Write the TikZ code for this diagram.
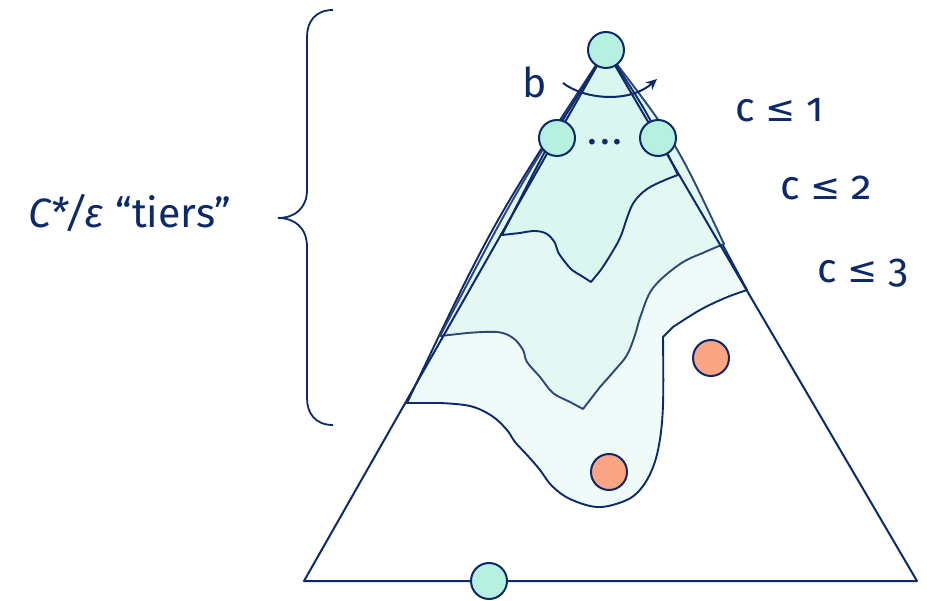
\documentclass[tikz,border=0pt]{standalone}
\usepackage{fontspec}
\setmainfont{Fira Sans}
\newfontfamily\oldnum[RawFeature=+onum]{Fira Sans}
\newfontfamily\relfont{DejaVu Sans}
\usetikzlibrary{arrows.meta}
\definecolor{navy}{HTML}{0C2A6B}
\definecolor{navysoft}{HTML}{2C4778}
\definecolor{mint}{HTML}{B5F0E1}
\definecolor{peach}{HTML}{FCA585}
\definecolor{tierone}{HTML}{D9F6EF}
\definecolor{tiertwo}{HTML}{E3F8F3}
\definecolor{tierthree}{HTML}{EFFBF9}
\newcommand{\lab}{\fontsize{41}{48}\selectfont}
\newcommand{\atmost}{{\relfont\fontsize{36}{40}\selectfont ≤}}

\begin{document}
\begin{tikzpicture}[x=1pt,y=-1pt,font=\lab,text=navy,
  mintball/.style={circle,draw=navy,fill=mint,line width=2pt,minimum size=36pt,inner sep=0},
  peachball/.style={circle,draw=navy,fill=peach,line width=2pt,minimum size=36pt,inner sep=0},
  tier/.style={draw=navy,line width=1.9pt,line join=round}]
\useasboundingbox (0,0) rectangle (927,601);
\coordinate (apex) at (606,50);
\coordinate (bl) at (304,581);
\coordinate (br) at (917,581);
\filldraw[tier,fill=tierthree] (apex) .. controls (494,220) .. (407,403)
  -- plot[smooth,tension=0.6] coordinates {(440,403) (470,406) (492,416) (507,430) (515,442) (528,456) (540,470) (552,486) (570,499) (597,507) (622,502) (638,492) (651,472) (659,445) (663,405) (663,337)}
  -- plot[smooth,tension=0.6] coordinates {(673,327) (700,310) (725,298) (747,290)}
  .. controls (681,167) .. (apex) -- cycle;
\filldraw[tier,fill=tiertwo,draw=navysoft] (apex) .. controls (517,189) .. (440,336)
  -- plot[smooth,tension=0.6] coordinates {(467,333) (497,332) (513,338) (523,350) (527,362) (540,377) (553,393) (570,402) (583,409)}
  -- plot[smooth,tension=0.6] coordinates {(600,387) (615,370) (627,355) (635,335) (641,315) (653,288) (680,264) (705,252) (724,244)}
  .. controls (675,140) .. (apex) -- cycle;
\filldraw[tier,fill=tierone] (apex) .. controls (550,140) .. (502,235)
  -- plot[smooth,tension=0.6] coordinates {(520,233) (535,231) (547,234) (555,243) (558,252) (565,262) (572,270) (580,275) (591,282)}
  -- plot[smooth,tension=0.6] coordinates {(600,271) (608,259) (620,238) (627,218) (634,202) (647,189) (665,180) (678,175)}
  .. controls (646,110) .. (apex) -- cycle;
\draw[navy,line width=2pt,line join=round] (apex) -- (bl) -- (br) -- cycle;
\coordinate (bfrom) at (563,83);
\coordinate (bto) at (657,79);
\draw[navy,line width=2pt,-{Stealth[length=11pt,width=10pt]}] (bfrom) .. controls (585,100) and (630,103) .. (bto);
\node[mintball] (top) at (apex) {};
\node[mintball] (leftnb) at (557,138) {};
\node[mintball] (rightnb) at (658,138) {};
\node[mintball] (base) at (489,581) {};
\node[peachball] (far) at (711,358) {};
\node[peachball] (near) at (609,472) {};
\node[anchor=base,inner sep=0] (gap) at (605,145) {.\kern3pt.\kern3pt.};
\node[anchor=base,inner sep=0] (blab) at (535,98) {b};
\node[anchor=base west,inner sep=0] (cone) at (735,122) {c \atmost{} {\oldnum 1}};
\node[anchor=base west,inner sep=0] (ctwo) at (780,200) {c \atmost{} {\oldnum 2}};
\node[anchor=base west,inner sep=0] (cthree) at (817,283) {c \atmost{} {\oldnum 3}};
\node[anchor=base west,inner sep=0] (tiers) at (28,228) {\textit{C*/ε} “tiers”};
\draw[navy,line width=1.8pt] (333,10) .. controls (315,10) and (307,22) .. (307,37) -- (307,190)
  .. controls (307,208) and (295,218) .. (278,218) .. controls (295,218) and (307,228) .. (307,247)
  -- (307,398) .. controls (307,413) and (315,425) .. (333,425);
\end{tikzpicture}
\end{document}
